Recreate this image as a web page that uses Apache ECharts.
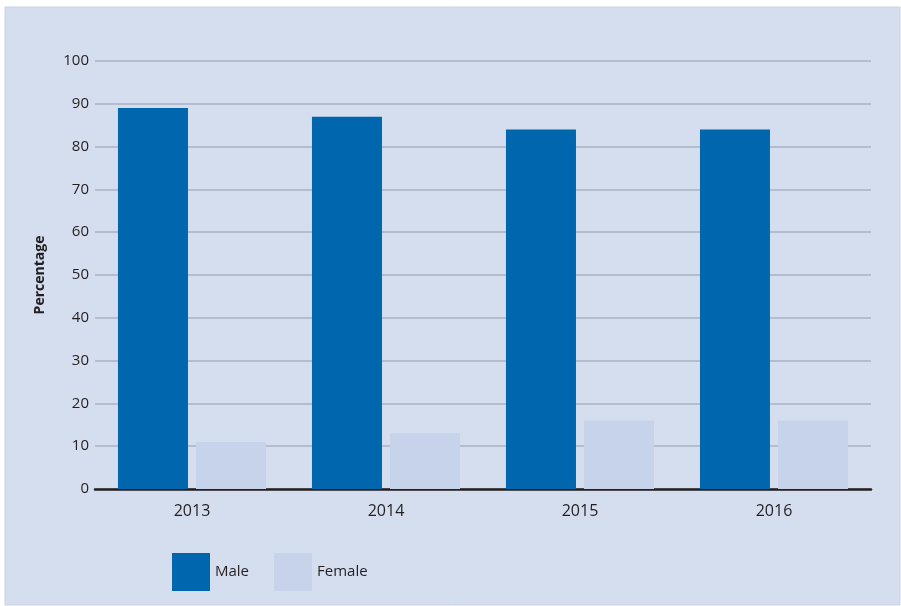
<!DOCTYPE html>
<html>
<head>
<meta charset="utf-8">
<script src="https://cdn.jsdelivr.net/npm/echarts@6/dist/echarts.min.js"></script>
<style>
  html, body { margin: 0; padding: 0; background: #ffffff; }
  #chart { width: 901px; height: 606px; }
</style>
</head>
<body>
<div id="chart"></div>
<script>
// Share of staff by sex, per year
const years = ['2013', '2014', '2015', '2016'];
const male = [89, 87, 84, 84];
const female = [11, 13, 16, 16];
const yTicks = { min: 0, max: 100, interval: 10 };

const chart = echarts.init(document.getElementById('chart'), null, { renderer: 'canvas' });
const font = '"Open Sans", "Noto Sans", sans-serif';

chart.setOption({
  animation: false,
  graphic: [{
    type: 'rect',
    z: -10,
    shape: { x: 5, y: 7, width: 895, height: 598 },
    style: { fill: '#d5deef', stroke: '#c9d2e3', lineWidth: 1 }
  }],
  grid: { left: 95, right: 30, top: 61, bottom: 117 },
  legend: {
    left: 172,
    top: 553,
    padding: 0,
    itemWidth: 38,
    itemHeight: 38,
    itemGap: 25,
    icon: 'rect',
    textStyle: { fontFamily: font, fontSize: 15, color: '#231f20' },
    data: ['Male', 'Female']
  },
  xAxis: {
    type: 'category',
    data: years,
    axisLine: { lineStyle: { color: '#231f20', width: 2.5 } },
    axisTick: { show: false },
    axisLabel: { fontFamily: font, fontSize: 16, color: '#231f20', margin: 14 }
  },
  yAxis: {
    type: 'value',
    min: yTicks.min,
    max: yTicks.max,
    interval: yTicks.interval,
    name: 'Percentage',
    nameLocation: 'middle',
    nameGap: 48,
    nameTextStyle: { fontFamily: font, fontSize: 14, fontWeight: 'bold', color: '#231f20' },
    axisLine: { show: false },
    axisTick: { show: false },
    axisLabel: { fontFamily: font, fontSize: 15, color: '#231f20', margin: 6 },
    splitLine: { lineStyle: { color: '#a8b1c3', width: 1.5 } }
  },
  series: [
    {
      name: 'Male',
      type: 'bar',
      data: male,
      barWidth: 70,
      barGap: '11.5%',
      itemStyle: { color: '#0066ae' }
    },
    {
      name: 'Female',
      type: 'bar',
      data: female,
      barWidth: 70,
      itemStyle: { color: '#c6d3ea' }
    }
  ]
});
</script>
</body>
</html>
